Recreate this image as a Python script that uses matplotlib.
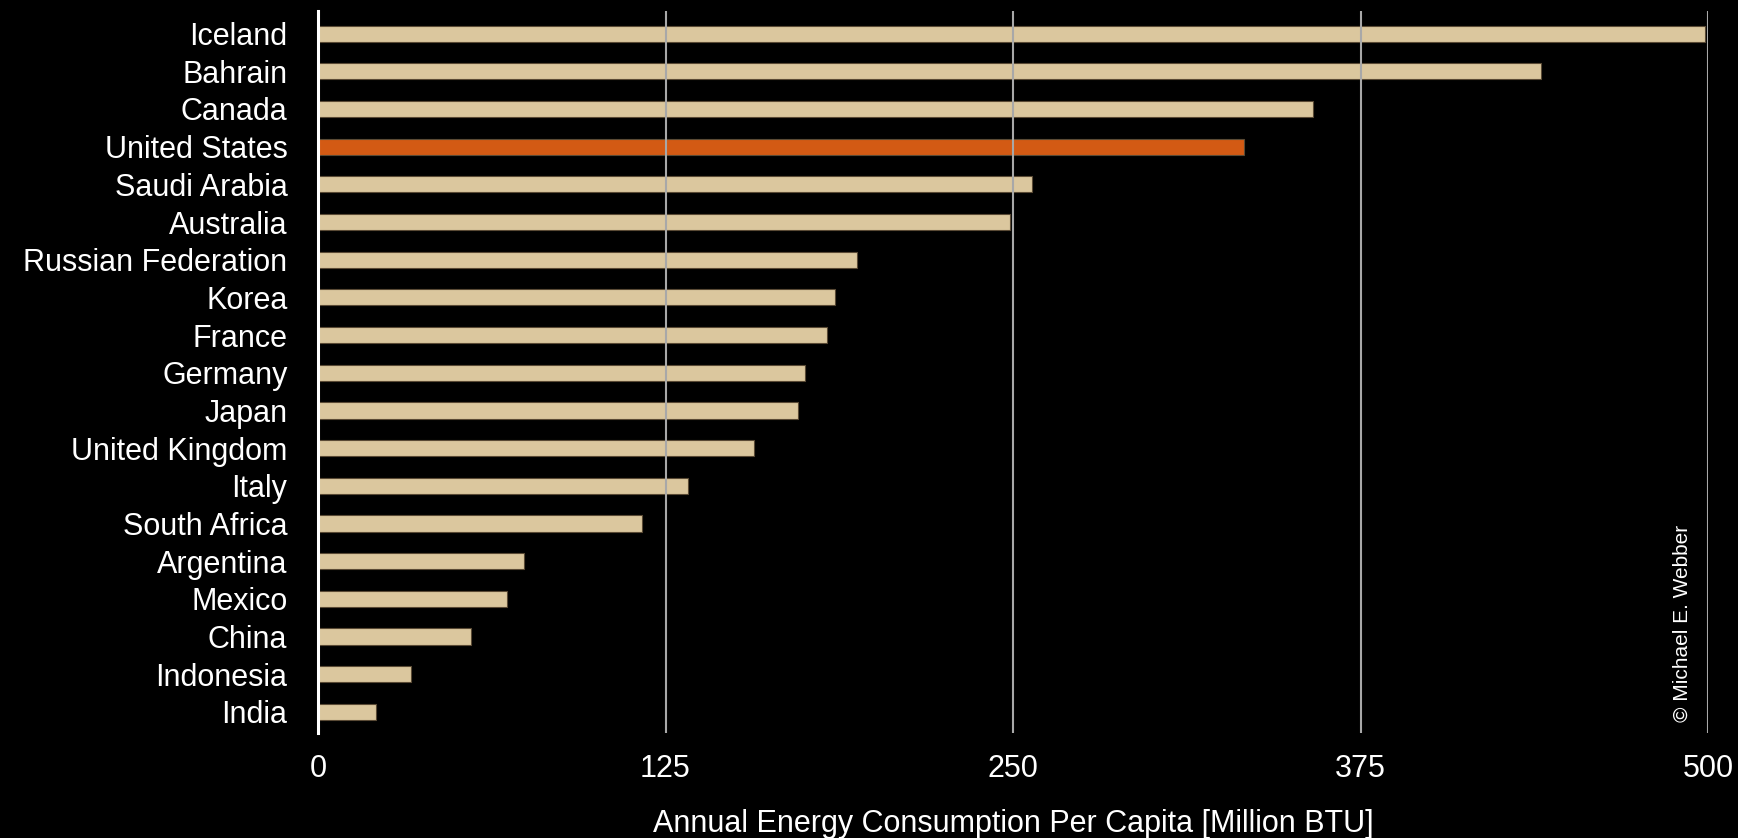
import matplotlib.pyplot as plt
import numpy as np

countries = ['Iceland', 'Bahrain', 'Canada', 'United States', 'Saudi Arabia',
             'Australia', 'Russian Federation', 'Korea', 'France', 'Germany',
             'Japan', 'United Kingdom', 'Italy', 'South Africa', 'Argentina',
             'Mexico', 'China', 'Indonesia', 'India']
energy = [499, 440, 358, 333, 257, 249, 194, 186, 183, 175,
          172.5, 157, 133, 116.5, 74, 68, 55, 33.5, 21]
highlight = 'United States'
xticks = [0, 125, 250, 375, 500]

plt.rcParams['font.family'] = ['Liberation Sans', 'DejaVu Sans']

fig = plt.figure(figsize=(17.38, 8.38), dpi=100, facecolor='black')
ax = fig.add_axes([318/1738, 1-733/838, (1708-318)/1738, (733-11)/838])
ax.set_facecolor('black')

y = np.arange(len(countries))
colors = ['#d35a14' if c == highlight else '#dbc79e' for c in countries]
ax.barh(y, energy, height=0.43, color=colors, edgecolor='#5a4a35',
        linewidth=0.8, zorder=2)

# grid lines sit on top of the bars in the original
for t in xticks[1:]:
    ax.axvline(t, color='#a8a8a8', lw=1.5, zorder=3)

ax.set_xlim(0, 500)
ax.set_ylim(len(countries) - 1 + 0.56, -0.6)
ax.set_yticks(y)
ax.set_yticklabels(countries, color='white', fontsize=22)
ax.set_xticks(xticks)
ax.set_xticklabels([str(t) for t in xticks], color='white', fontsize=22)
ax.tick_params(length=0)
ax.tick_params(axis='y', pad=22)
ax.tick_params(axis='x', pad=15)

for s in ['top', 'right', 'bottom']:
    ax.spines[s].set_visible(False)
ax.spines['left'].set_color('white')
ax.spines['left'].set_linewidth(2.2)

ax.set_xlabel('Annual Energy Consumption Per Capita [Million BTU]',
              color='white', fontsize=22, labelpad=18)

fig.text(1682/1738, 1-722/838, '\u00a9 Michael E. Webber', color='white',
         fontsize=15, rotation=90, ha='center', va='bottom')

fig.savefig('out.png', dpi=100, facecolor='black')
